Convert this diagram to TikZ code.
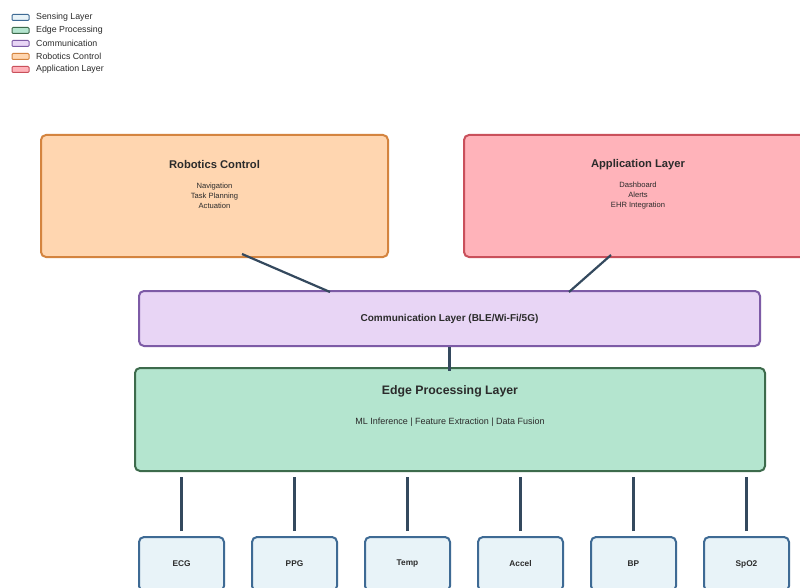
\documentclass[tikz,border=0pt]{standalone}
\usepackage{fontspec}
\setmainfont{Liberation Sans}
\usetikzlibrary{calc}

\definecolor{senseFill}{HTML}{E8F3F8}
\definecolor{senseDraw}{HTML}{3E6A94}
\definecolor{edgeFill}{HTML}{B4E5CF}
\definecolor{edgeDraw}{HTML}{3D6B4C}
\definecolor{commFill}{HTML}{E8D5F5}
\definecolor{commDraw}{HTML}{7D5BA6}
\definecolor{robFill}{HTML}{FFD6B0}
\definecolor{robDraw}{HTML}{D4843F}
\definecolor{appFill}{HTML}{FFB3BA}
\definecolor{appDraw}{HTML}{C9505B}
\definecolor{link}{HTML}{34495E}
\definecolor{ink}{HTML}{2B2B2B}

\tikzset{
  layerbox/.style={draw, line width=2pt, rounded corners=5pt, inner sep=0pt},
  title/.style={font=\fontsize{11.2}{13}\selectfont\bfseries, text=ink, inner sep=0pt},
  detail/.style={font=\fontsize{7.6}{10}\selectfont, text=ink, align=center, inner sep=0pt},
  sensor/.style={layerbox, fill=senseFill, draw=senseDraw, minimum width=85pt, minimum height=54pt,
    font=\fontsize{8.3}{9}\selectfont\bfseries, text=ink},
  link/.style={draw=link, line width=2.2pt},
  swatch/.style={draw, line width=1pt, rounded corners=1pt, minimum width=17pt, minimum height=6pt, inner sep=0pt},
  legtext/.style={font=\fontsize{8.8}{10}\selectfont, text=ink, anchor=west, inner sep=0pt},
}

\begin{document}
\begin{tikzpicture}[x=1pt,y=-1pt]
\clip (0,0) rectangle (800,588);
\fill[white] (0,0) rectangle (800,588);

% legend
\node[swatch, fill=senseFill, draw=senseDraw] (lg1) at (20.5,17.5) {};
\node[legtext] (lt1) at (36,17.5) {Sensing Layer};
\node[swatch, fill=edgeFill, draw=edgeDraw] (lg2) at (20.5,30.5) {};
\node[legtext] (lt2) at (36,30.5) {Edge Processing};
\node[swatch, fill=commFill, draw=commDraw] (lg3) at (20.5,43.5) {};
\node[legtext] (lt3) at (36,43.5) {Communication};
\node[swatch, fill=robFill, draw=robDraw] (lg4) at (20.5,56.5) {};
\node[legtext] (lt4) at (36,56.5) {Robotics Control};
\node[swatch, fill=appFill, draw=appDraw] (lg5) at (20.5,69.5) {};
\node[legtext] (lt5) at (36,69.5) {Application Layer};

% robotics control
\node[layerbox, fill=robFill, draw=robDraw, minimum width=347pt, minimum height=122pt] (rob) at (214.5,196) {};
\node[title] (robT) at (214.5,164.5) {Robotics Control};
\node[detail] (robD) at (214.5,195.5) {Navigation\\Task Planning\\Actuation};

% application layer
\node[layerbox, fill=appFill, draw=appDraw, minimum width=348pt, minimum height=122pt] (app) at (638,196) {};
\node[title] (appT) at (638,164.5) {Application Layer};
\node[detail] (appD) at (638,195.5) {Dashboard\\Alerts\\EHR Integration};

% communication layer
\node[layerbox, fill=commFill, draw=commDraw, minimum width=621pt, minimum height=55pt,
  font=\fontsize{10}{12}\selectfont\bfseries, text=ink] (comm) at (449.5,318.5) {Communication Layer (BLE/Wi-Fi/5G)};

% edge processing layer
\node[layerbox, fill=edgeFill, draw=edgeDraw, minimum width=630pt, minimum height=103pt] (edge) at (450,419.5) {};
\node[title, font=\fontsize{12.3}{14}\selectfont\bfseries] (edgeT) at (450,391.5) {Edge Processing Layer};
\node[detail, font=\fontsize{9}{10}\selectfont] (edgeD) at (450,422.5) {ML Inference | Feature Extraction | Data Fusion};

% sensors
\node[sensor] (s1) at (181.5,564) {ECG};
\node[sensor] (s2) at (294.5,564) {PPG};
\node[sensor] (s3) at (407.5,564) {Temp};
\node[sensor] (s4) at (520.5,564) {Accel};
\node[sensor] (s5) at (633.5,564) {BP};
\node[sensor] (s6) at (746.5,564) {SpO2};

% links between layers
\draw[link] ($(rob.south)+(27.5,-4)$) -- ($(comm.north)+(-119.5,2)$);
\draw[link] ($(app.south)+(-27,-3)$) -- ($(comm.north)+(119.5,2)$);
\draw[link] (comm.south) -- ($(comm.south |- edge.north)+(0,4)$);
\foreach \s in {s1,s2,s3,s4,s5,s6}
  \draw[link] ($(\s.north)+(0,-5)$) -- ($(\s.north |- edge.south)+(0,5)$);
\end{tikzpicture}
\end{document}
